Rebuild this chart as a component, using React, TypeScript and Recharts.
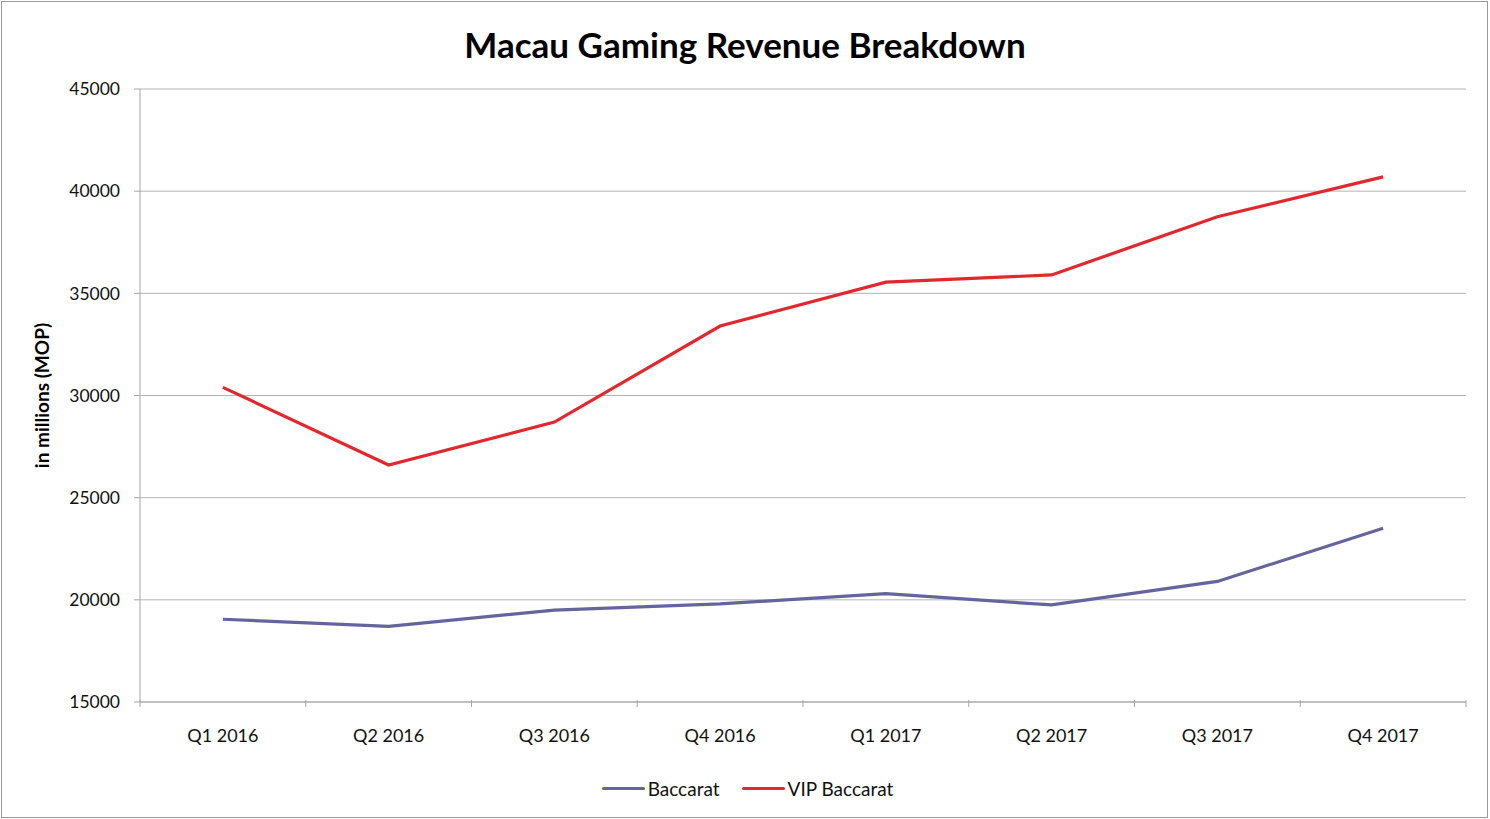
import { LineChart, Line, XAxis, YAxis, CartesianGrid, Legend } from 'recharts'

const quarters = ['Q1 2016', 'Q2 2016', 'Q3 2016', 'Q4 2016', 'Q1 2017', 'Q2 2017', 'Q3 2017', 'Q4 2017']
const baccarat = [19050, 18700, 19500, 19800, 20300, 19750, 20900, 23500]
const vipBaccarat = [30400, 26600, 28700, 33400, 35550, 35900, 38750, 40700]
const yTicks = [15000, 20000, 25000, 30000, 35000, 40000, 45000]

const SERIES = [
  { key: 'Baccarat', color: '#65659E' },
  { key: 'VIP Baccarat', color: '#E0282E' },
]

const W = 1490
const H = 819
const MARGIN = { top: 89, right: 24, bottom: 19, left: 0 }
const Y_AXIS_W = 140
const BAND = (W - MARGIN.right - MARGIN.left - Y_AXIS_W) / quarters.length
const FONT = 'Lato, "Open Sans", sans-serif'
const AXIS_GREY = '#a6a6a6'

const chartData = quarters.map((q, i) => ({
  quarter: q,
  Baccarat: baccarat[i],
  'VIP Baccarat': vipBaccarat[i],
}))

// labels at the category centre, tick marks on the category boundaries
const QuarterTick = ({ x, y, payload, index }: any) => {
  const half = BAND / 2
  return (
    <g>
      <line x1={x - half} y1={y - 10} x2={x - half} y2={y - 3} stroke={AXIS_GREY} />
      {index === quarters.length - 1 && (
        <line x1={x + half} y1={y - 10} x2={x + half} y2={y - 3} stroke={AXIS_GREY} />
      )}
      <text x={x} y={y + 32} textAnchor="middle" fontSize={18} fill="#111" fontFamily={FONT}>
        {payload.value}
      </text>
    </g>
  )
}

const LegendContent = () => (
  <div style={{ height: 24, paddingLeft: 29, display: 'flex', justifyContent: 'center', alignItems: 'center', fontFamily: FONT, fontSize: 19, color: '#111' }}>
    {SERIES.map((s) => (
      <div key={s.key} style={{ display: 'flex', alignItems: 'center', margin: '0 11px' }}>
        <span style={{ display: 'inline-block', width: 43, height: 3, background: s.color, borderRadius: 2, marginRight: 3 }} />
        <span>{s.key}</span>
      </div>
    ))}
  </div>
)

export default function App() {
  return (
    <div style={{ position: 'absolute', left: 0, top: 0, width: W, height: H, background: '#fff' }}>
      <div style={{ position: 'absolute', left: 1, top: 1, width: W - 3, height: H - 2, border: '1px solid #9a9a9a', boxSizing: 'border-box' }} />
      <div style={{ position: 'absolute', left: 0, top: 23, width: W, textAlign: 'center', fontFamily: FONT, fontWeight: 700, fontSize: 35, lineHeight: '42px', color: '#000' }}>
        Macau Gaming Revenue Breakdown
      </div>
      <div style={{ position: 'absolute', left: 0, top: 0 }}>
        <LineChart width={W} height={H} data={chartData} margin={MARGIN}>
          <CartesianGrid vertical={false} stroke="#b4b4b4" />
          <XAxis
            dataKey="quarter"
            height={74}
            padding={{ left: BAND / 2, right: BAND / 2 }}
            tickLine={false}
            axisLine={{ stroke: AXIS_GREY }}
            tick={<QuarterTick />}
            interval={0}
          />
          <YAxis
            width={Y_AXIS_W}
            domain={[15000, 45000]}
            ticks={yTicks}
            interval={0}
            tickSize={6}
            tickMargin={14}
            tickLine={{ stroke: AXIS_GREY }}
            axisLine={{ stroke: AXIS_GREY }}
            tick={{ fontSize: 17.5, fill: '#111', fontFamily: FONT }}
            label={{
              value: 'in millions (MOP)',
              angle: -90,
              position: 'insideLeft',
              offset: 42,
              style: { fontFamily: FONT, fontWeight: 700, fontSize: 19, fill: '#000', textAnchor: 'middle' },
            }}
          />
          <Legend verticalAlign="bottom" content={<LegendContent />} />
          {SERIES.map((s) => (
            <Line
              key={s.key}
              dataKey={s.key}
              stroke={s.color}
              strokeWidth={3.2}
              dot={false}
              activeDot={false}
              isAnimationActive={false}
            />
          ))}
        </LineChart>
      </div>
    </div>
  )
}
